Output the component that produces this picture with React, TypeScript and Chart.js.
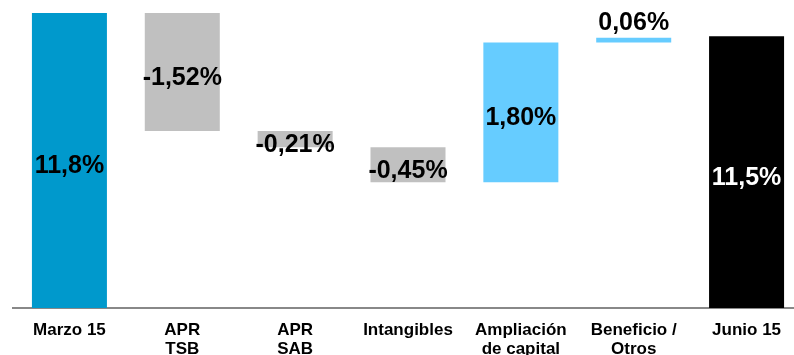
import React, { useEffect, useRef } from "react";
import { Chart, registerables } from "chart.js";

Chart.register(...registerables);

// Capital ratio bridge: opening level, movements, closing level
const categories: string[][] = [
  ["Marzo 15"],
  ["APR", "TSB"],
  ["APR", "SAB"],
  ["Intangibles"],
  ["Ampliación", "de capital"],
  ["Beneficio /", "Otros"],
  ["Junio 15"],
];
const openingValue = 11.8;
const movements = [-1.52, -0.21, -0.45, 1.8, 0.06];
const closingValue = 11.5;
const valueLabels = ["11,8%", "-1,52%", "-0,21%", "-0,45%", "1,80%", "0,06%", "11,5%"];
const barColors = ["#0099CC", "#C0C0C0", "#C0C0C0", "#C0C0C0", "#66CCFF", "#66CCFF", "#000000"];
const labelColors = ["#000000", "#000000", "#000000", "#000000", "#000000", "#000000", "#FFFFFF"];
const axisMin = 8;

function buildRanges(): [number, number][] {
  const ranges: [number, number][] = [[axisMin, openingValue]];
  let level = openingValue;
  for (const m of movements) {
    const next = level + m;
    ranges.push([Math.min(level, next), Math.max(level, next)]);
    level = next;
  }
  ranges.push([axisMin, closingValue]);
  return ranges;
}

const valueLabelPlugin = {
  id: "valueLabels",
  afterDatasetsDraw(chart: any) {
    const ctx = chart.ctx;
    const meta = chart.getDatasetMeta(0);
    ctx.save();
    ctx.font = "bold 25px 'Liberation Sans', Arial, sans-serif";
    ctx.textAlign = "center";
    meta.data.forEach((bar: any, i: number) => {
      const top = Math.min(bar.y, bar.base);
      const bottom = Math.max(bar.y, bar.base);
      const h = bottom - top;
      let y: number;
      if (h < 10) {
        ctx.textBaseline = "bottom";
        y = top - 2;
      } else {
        ctx.textBaseline = "middle";
        y = (top + bottom) / 2 + 6;
      }
      ctx.fillStyle = labelColors[i];
      ctx.fillText(valueLabels[i], bar.x, y);
    });
    ctx.restore();
  },
};

export default function App() {
  const canvasRef = useRef<HTMLCanvasElement | null>(null);

  useEffect(() => {
    if (!canvasRef.current) return;
    const chart = new Chart(canvasRef.current, {
      type: "bar",
      data: {
        labels: categories,
        datasets: [
          {
            data: buildRanges() as any,
            backgroundColor: barColors,
            borderWidth: 0,
            barPercentage: 0.6646,
            categoryPercentage: 1,
          },
        ],
      },
      options: {
        responsive: false,
        animation: false,
        layout: { padding: { left: 13, right: 7, top: 13, bottom: 0 } },
        plugins: {
          legend: { display: false },
          tooltip: { enabled: false },
          title: { display: false },
        },
        scales: {
          x: {
            grid: { display: false, drawTicks: false },
            border: { display: true, color: "#888888", width: 2 },
            ticks: {
              color: "#000000",
              padding: 13,
              maxRotation: 0,
              autoSkip: false,
              font: {
                family: "'Liberation Sans', Arial, sans-serif",
                size: 17,
                weight: "bold",
                lineHeight: "19px",
              },
            },
            afterFit: (scale: any) => {
              scale.height = 47;
            },
          },
          y: {
            display: false,
            min: axisMin,
            max: openingValue,
          },
        },
      },
      plugins: [valueLabelPlugin],
    });
    return () => chart.destroy();
  }, []);

  return (
    <div
      style={{
        position: "fixed",
        left: 0,
        top: 0,
        width: 794,
        height: 355,
        overflow: "hidden",
        background: "#FFFFFF",
      }}
    >
      <canvas ref={canvasRef} width={810} height={355} style={{ display: "block" }} />
    </div>
  );
}
